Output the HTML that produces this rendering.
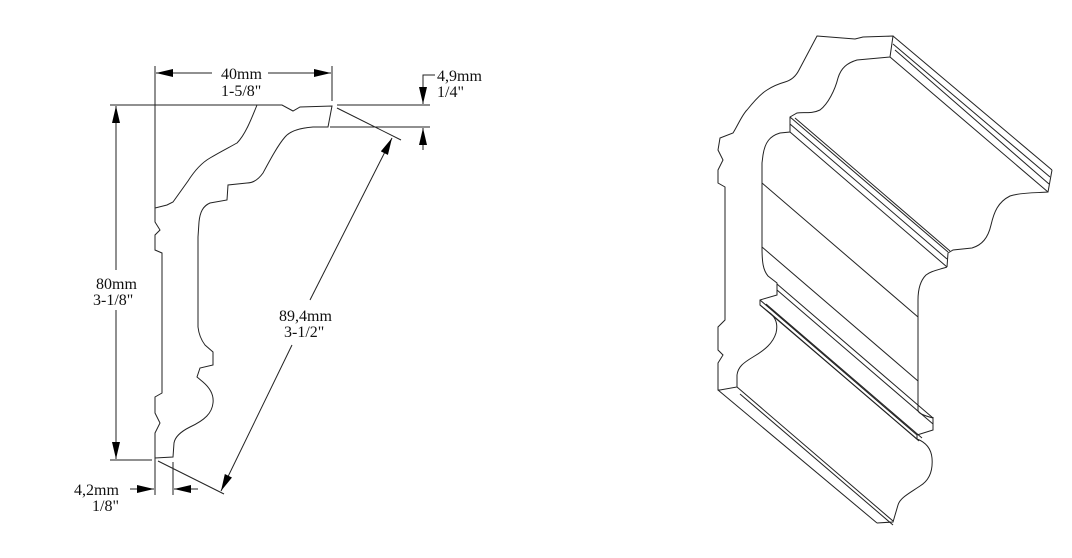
<!DOCTYPE html>
<html><head><meta charset="utf-8"><style>
html,body{margin:0;padding:0;background:#fff;}
svg{display:block;}
text{font-family:"Liberation Serif",serif;font-size:16px;fill:#111;}
</style></head><body>
<svg width="1072" height="558" viewBox="0 0 1072 558" xmlns="http://www.w3.org/2000/svg">
<defs>
<marker id="a" viewBox="0 0 17 8" refX="17" refY="4" markerWidth="17" markerHeight="8" markerUnits="userSpaceOnUse" orient="auto"><path d="M0,0 L17,4 L0,8 z" fill="#000"/></marker>
</defs>
<g fill="none" stroke="#222" stroke-width="1">
<path d="M257,105 L282,105 L293,111 L300,107 L332,106 L328,127 L313,127 C300,128 290,131 285,137 C278,145 270,160 263,173 C258,180 252,183 247,183 L228,185 L227,200 L210,203 C203,206 200,212 199,222 L198,237 L198,327 C199,336 202,341 205,345 L213,352 L213,365 L200,368 L197,377 L203,382 C210,388 214,395 213,403 C212,413 205,420 190,427 C180,432 175,437 174,443 L173,457 L155,458 L155,433 L160,423 L155,413 L155,397 L162,393 L162,253 L155,250 L155,235 L160,230 L155,222 L155,208 L167,205 L173,202 C178,195 183,188 188,181 C195,170 203,162 210,158 C220,152 228,148 237,143 C245,135 251,120 257,105 Z"/>
<line x1="155" y1="66" x2="155" y2="208"/>
<line x1="155" y1="458" x2="155" y2="495"/>
<line x1="332" y1="66" x2="332" y2="101"/>
<line x1="110" y1="105" x2="257" y2="105"/>
<line x1="337" y1="105" x2="430" y2="105"/>
<line x1="330" y1="127" x2="430" y2="127"/>
<line x1="110" y1="460" x2="152" y2="460"/>
<line x1="173" y1="462" x2="173" y2="495"/>
<line x1="337" y1="108" x2="401" y2="140"/>
<line x1="158" y1="461" x2="224" y2="494"/>
<line x1="212" y1="73" x2="156" y2="73" marker-end="url(#a)"/>
<line x1="268" y1="73" x2="331" y2="73" marker-end="url(#a)"/>
<polyline points="435,75 423,75 423,104" marker-end="url(#a)"/>
<line x1="423" y1="150" x2="423" y2="128" marker-end="url(#a)"/>
<line x1="116" y1="270" x2="116" y2="106" marker-end="url(#a)"/>
<line x1="116" y1="310" x2="116" y2="459" marker-end="url(#a)"/>
<line x1="310" y1="300" x2="392" y2="138" marker-end="url(#a)"/>
<line x1="292" y1="345" x2="221" y2="491" marker-end="url(#a)"/>
<line x1="130" y1="489" x2="154" y2="489" marker-end="url(#a)"/>
<line x1="198" y1="489" x2="174" y2="489" marker-end="url(#a)"/>

<path d="M817,36 L855,39 L863,37 L893,36 L890,57 L857,60 C847,63 841,68 838,78 C835,90 828,104 820,110 C812,114 803,112 797,113 L790,117 L790,132 L780,133 C770,136 765,142 763,155 L762,163 L762,247 C762,262 763,270 768,276 L777,283 L777,295 L760,300 L760,305 L770,313 C776,318 778,325 776,333 C773,343 765,350 753,357 C743,363 738,367 737,375 L737,387 L720,390 L718,390 L718,363 L723,355 L718,350 L718,327 L725,320 L725,187 L718,183 L718,170 L723,160 L718,150 L720,138 L733,133 C738,125 742,115 747,110 C755,100 762,93 767,90 C773,86 778,84 785,82 C792,80 796,76 799,70 Z"/>
<line x1="893" y1="36" x2="1052" y2="170"/>
<line x1="890" y1="57" x2="1048" y2="192"/>
<line x1="893" y1="44" x2="1050" y2="177"/>
<line x1="895" y1="50" x2="1049" y2="184"/>
<path d="M1052,170 L1048,192 C1040,193 1022,192 1010,196 C998,202 994,212 991,225 C988,238 982,245 972,248 L953,250 L948,253 L947,267"/>
<line x1="790" y1="117" x2="948" y2="252"/>
<line x1="795" y1="118" x2="950" y2="251"/>
<line x1="790" y1="124" x2="947" y2="259"/>
<line x1="790" y1="132" x2="947" y2="267"/>
<path d="M947,267 C938,270 931,271 926,275 C920,281 918,290 918,300 L918,410 C918,413 922,415 933,418"/>
<line x1="762" y1="183" x2="918" y2="317"/>
<line x1="762" y1="247" x2="918" y2="381"/>
<line x1="777" y1="284" x2="933" y2="418"/>
<line x1="777" y1="290" x2="933" y2="424"/>
<line x1="760" y1="300" x2="917" y2="435"/>
<line x1="760" y1="305" x2="917" y2="439"/>
<line x1="766" y1="304" x2="922" y2="438"/>
<line x1="770" y1="313" x2="919" y2="441"/>
<path d="M933,417 L933,430 L917,435 L917,439 C925,442 931,448 932,458 C933,470 930,480 920,486 C908,494 900,498 898,505 L893,522 L877,523"/>
<line x1="718" y1="390" x2="877" y2="523"/>
<line x1="737" y1="387" x2="893" y2="521"/>
<line x1="740" y1="394" x2="893" y2="525"/>
</g>
<text x="221" y="79">40mm</text>
<text x="221" y="96">1-5/8"</text>
<text x="437" y="81">4,9mm</text>
<text x="437" y="97">1/4"</text>
<text x="96" y="289">80mm</text>
<text x="93" y="305">3-1/8"</text>
<text x="279" y="321">89,4mm</text>
<text x="284" y="337">3-1/2"</text>
<text x="74" y="495">4,2mm</text>
<text x="92" y="511">1/8"</text>
</svg>
</body></html>
